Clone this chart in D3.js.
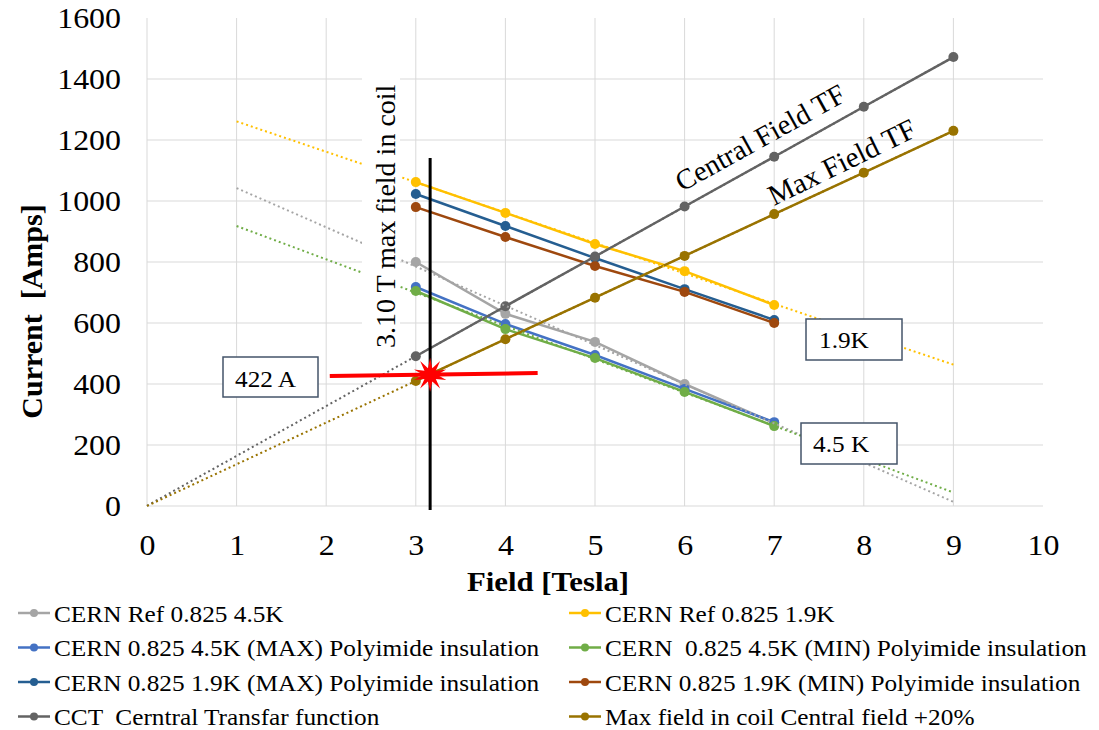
<!DOCTYPE html>
<html>
<head>
<meta charset="utf-8">
<script src="https://cdn.jsdelivr.net/npm/d3@7"></script>
<style>
  body { margin: 0; background: #fff; }
  text { font-family: "Liberation Serif", "Times New Roman", serif; fill: #000; }
</style>
</head>
<body>
<svg id="chart" width="1099" height="730"></svg>
<script>
// data
const fieldShort = [3, 4, 5, 6, 7];
const fieldLong = [3, 4, 5, 6, 7, 8, 9];
const ref45 = [800, 630, 538, 400, 272];
const ref19 = [1062, 961, 859, 770, 659];
const max45 = [718, 597, 495, 384, 275];
const min45 = [705, 580, 485, 374, 262];
const max19 = [1023, 918, 813, 711, 610];
const min19 = [980, 882, 787, 702, 600];
const cctTF = [491, 655, 818, 982, 1145, 1309, 1472];
const maxFieldTF = [410, 547, 683, 820, 957, 1093, 1230];

const xTicks = [0, 1, 2, 3, 4, 5, 6, 7, 8, 9, 10];
const yTicks = [0, 200, 400, 600, 800, 1000, 1200, 1400, 1600];

const series = [
  {name: "CERN Ref 0.825 4.5K", color: "#A5A5A5", xs: fieldShort, ys: ref45, trend: [1, 9]},
  {name: "CERN Ref 0.825 1.9K", color: "#FFC000", xs: fieldShort, ys: ref19, trend: [1, 9]},
  {name: "CERN 0.825 4.5K (MAX) Polyimide insulation", color: "#4472C4", xs: fieldShort, ys: max45},
  {name: "CERN  0.825 4.5K (MIN) Polyimide insulation", color: "#70AD47", xs: fieldShort, ys: min45, trend: [1, 9]},
  {name: "CERN 0.825 1.9K (MAX) Polyimide insulation", color: "#255E91", xs: fieldShort, ys: max19},
  {name: "CERN 0.825 1.9K (MIN) Polyimide insulation", color: "#9E480E", xs: fieldShort, ys: min19},
  {name: "CCT  Cerntral Transfar function", color: "#636363", xs: fieldLong, ys: cctTF, trend: [0, 9]},
  {name: "Max field in coil Central field +20%", color: "#997300", xs: fieldLong, ys: maxFieldTF, trend: [0, 9]}
];

const SX = 1.1; // reference glyphs are a bit wider than tall
const FONT = "'Liberation Serif','Times New Roman',serif";

const svg = d3.select("#chart");
const x = d3.scaleLinear().domain([0, 10]).range([147, 1043]);
const y = d3.scaleLinear().domain([0, 1600]).range([506, 18]);

// grid
const grid = svg.append("g");
grid.selectAll("line.v").data(d3.range(0, 10)).enter().append("line")
  .attr("x1", d => x(d)).attr("x2", d => x(d))
  .attr("y1", y(1600)).attr("y2", y(0))
  .attr("stroke", "#D9D9D9").attr("stroke-width", 1);
grid.selectAll("line.h").data(yTicks.filter(d => d < 1600)).enter().append("line")
  .attr("x1", x(0)).attr("x2", x(10))
  .attr("y1", d => y(d)).attr("y2", d => y(d))
  .attr("stroke", "#D9D9D9").attr("stroke-width", 1);

// axes (labels only)
const xAxis = svg.append("g").attr("transform", `translate(0,${y(0)})`)
  .call(d3.axisBottom(x).tickValues(xTicks).tickSize(0).tickPadding(28).tickFormat(d3.format("d")));
const yAxis = svg.append("g").attr("transform", `translate(${x(0)},0)`)
  .call(d3.axisLeft(y).tickValues(yTicks).tickSize(0).tickPadding(26).tickFormat(d3.format("d")));
[xAxis, yAxis].forEach(a => {
  a.attr("font-family", FONT).attr("font-size", 29);
  a.select(".domain").remove();
  a.selectAll("text").attr("fill", "#000");
});
yAxis.selectAll("text").attr("x", -26 / SX).attr("transform", `scale(${SX},1)`);
xAxis.selectAll("text").attr("transform", `scale(${SX},1)`);

// axis titles
svg.append("text").attr("x", 548 / SX).attr("y", 591).attr("transform", `scale(${SX},1)`)
  .attr("text-anchor", "middle").style("font-size", "28px").style("font-weight", "bold")
  .text("Field [Tesla]");
svg.append("text").attr("transform", `translate(42,${(198 + 425) / 2}) rotate(-90)`)
  .attr("text-anchor", "middle").style("font-size", "30px").style("font-weight", "bold")
  .style("white-space", "pre").text("Current  [Amps]");

// lines + markers
const line = d3.line().x(d => x(d[0])).y(d => y(d[1]));
const plot = svg.append("g");
series.forEach(s => {
  const pts = s.xs.map((v, i) => [v, s.ys[i]]);
  plot.append("path").datum(pts).attr("d", line)
    .attr("fill", "none").attr("stroke", s.color).attr("stroke-width", 2.5);
  plot.selectAll(null).data(pts).enter().append("circle")
    .attr("cx", d => x(d[0])).attr("cy", d => y(d[1])).attr("r", 5)
    .attr("fill", s.color);
});

// linear trendlines (least squares of each series)
series.filter(s => s.trend).forEach(s => {
  const mx = d3.mean(s.xs), my = d3.mean(s.ys);
  const b = d3.sum(s.xs, (v, i) => (v - mx) * (s.ys[i] - my)) / d3.sum(s.xs, v => (v - mx) * (v - mx));
  const a = my - b * mx;
  const ends = s.trend.map(t => [t, a + b * t]);
  plot.append("path").datum(ends).attr("d", line)
    .attr("fill", "none").attr("stroke", s.color).attr("stroke-width", 2)
    .attr("stroke-dasharray", "2,3");
});

// vertical text box "3.10 T max field in coil"
svg.append("rect").attr("x", 362).attr("y", 72).attr("width", 38).attr("height", 282).attr("fill", "#fff");
svg.append("text").attr("transform", "translate(395,348) rotate(-90)")
  .style("font-size", "28px").text("3.10 T max field in coil");

// 3.1 T marker line, 422 A line and star
const markX = 3.16;
svg.append("line").attr("x1", x(markX)).attr("x2", x(markX)).attr("y1", y(1141)).attr("y2", y(-13))
  .attr("stroke", "#000").attr("stroke-width", 3);
svg.append("line").attr("x1", x(2.04)).attr("x2", x(4.36)).attr("y1", y(426)).attr("y2", y(436))
  .attr("stroke", "#FF0000").attr("stroke-width", 4);
const starPts = d3.range(20).map(i => {
  const r = i % 2 === 0 ? 17 : 7;
  const ang = Math.PI * i / 10 - Math.PI / 2;
  return [x(markX) + r * Math.cos(ang), y(430) + r * Math.sin(ang)];
});
svg.append("polygon").attr("points", starPts.map(p => p.join(",")).join(" ")).attr("fill", "#FF0000");

// boxed labels
const boxes = [
  {text: "422 A", x: 223, y: 357, w: 95, h: 40, tx: 235, ty: 387},
  {text: "1.9K", x: 806, y: 319, w: 96, h: 41, tx: 819, ty: 348},
  {text: "4.5 K", x: 801, y: 423, w: 96, h: 41, tx: 813, ty: 452}
];
boxes.forEach(b => {
  svg.append("rect").attr("x", b.x).attr("y", b.y).attr("width", b.w).attr("height", b.h)
    .attr("fill", "#fff").attr("stroke", "#44546A").attr("stroke-width", 1.5);
  svg.append("text").attr("x", b.tx / SX).attr("y", b.ty).attr("transform", `scale(${SX},1)`)
    .style("font-size", "23px").style("white-space", "pre").text(b.text);
});

// curve labels
svg.append("text").attr("transform", "translate(682,192) rotate(-29)")
  .style("font-size", "28.5px").text("Central Field TF");
svg.append("text").attr("transform", "translate(774,206) rotate(-26)")
  .style("font-size", "29px").text("Max Field TF");

// legend
const legendCols = [18, 569];
const legendRows = [622, 656.5, 691, 725.5];
const legend = svg.append("g");
series.forEach((s, i) => {
  const lx = legendCols[i % 2], ly = legendRows[Math.floor(i / 2)];
  const g = legend.append("g");
  g.append("line").attr("x1", lx).attr("x2", lx + 32).attr("y1", ly - 9).attr("y2", ly - 9)
    .attr("stroke", s.color).attr("stroke-width", 2.5);
  g.append("circle").attr("cx", lx + 16).attr("cy", ly - 9).attr("r", 4).attr("fill", s.color);
  g.append("text").attr("x", (lx + 36) / SX).attr("y", ly).attr("transform", `scale(${SX},1)`)
    .style("font-size", "23px").style("white-space", "pre").attr("fill", "#000").text(s.name);
});
</script>
</body>
</html>
